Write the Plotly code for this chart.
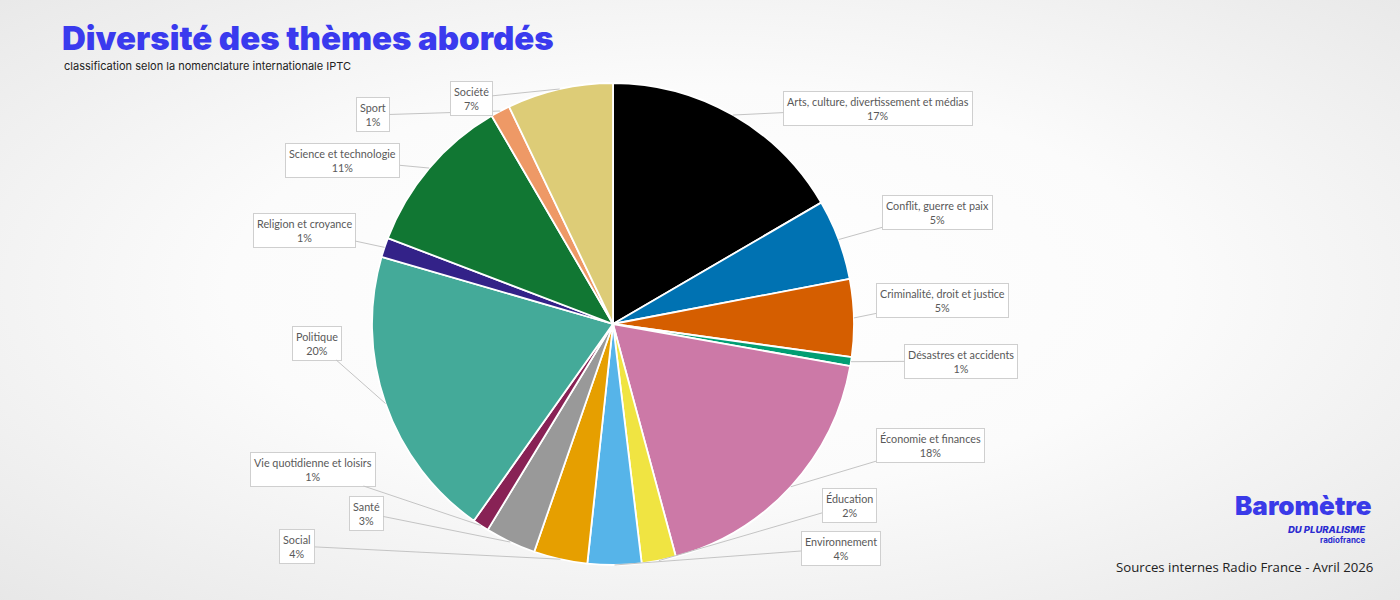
import math, base64
import plotly.graph_objects as go

# ---- data ----
themes = [
    "Arts, culture, divertissement et médias",
    "Conflit, guerre et paix",
    "Criminalité, droit et justice",
    "Désastres et accidents",
    "Économie et finances",
    "Éducation",
    "Environnement",
    "Social",
    "Santé",
    "Vie quotidienne et loisirs",
    "Politique",
    "Religion et croyance",
    "Science et technologie",
    "Sport",
    "Société",
]
shares = [16.6, 5.4, 5.2, 0.6, 18.0, 2.3, 3.6, 3.6, 3.4, 1.1, 19.7, 1.3, 10.8, 1.3, 7.1]
colors = ["#000000", "#0072B2", "#D55E00", "#009E73", "#CC79A7", "#F0E442", "#56B4E9",
          "#E69F00", "#999999", "#882255", "#44AA99", "#332288", "#117733", "#EE9966", "#DDCC77"]

# ---- layout (pixel positions of label boxes) ----
W, H = 1400, 600
CX, CY, R = 613, 324, 241
label_pos = [
    (878, 108), (937, 212), (942, 300), (961, 361), (930, 445), (849, 505), (841, 548),
    (297, 546), (366, 513), (313, 469), (317, 343), (304, 230), (343, 160), (373, 115), (471, 98),
]

bg_svg = (
    '<svg xmlns="http://www.w3.org/2000/svg" width="1400" height="600" viewBox="0 0 1400 600" preserveAspectRatio="none">'
    '<defs><radialGradient id="g" cx="50%" cy="48%" r="75%">'
    '<stop offset="0%" stop-color="#ffffff"/><stop offset="45%" stop-color="#fbfbfb"/>'
    '<stop offset="100%" stop-color="#e6e6e6"/></radialGradient></defs>'
    '<rect width="1400" height="600" fill="url(#g)"/></svg>'
)
bg_uri = "data:image/svg+xml;base64," + base64.b64encode(bg_svg.encode()).decode()

fig = go.Figure()
fig.add_trace(go.Pie(
    labels=themes, values=shares, sort=False, direction="clockwise", rotation=0,
    marker=dict(colors=colors, line=dict(color="#ffffff", width=1.8)),
    textinfo="none", hoverinfo="label+percent", showlegend=False,
    domain=dict(x=[(CX - R) / W, (CX + R) / W], y=[1 - (CY + R) / H, 1 - (CY - R) / H]),
))

total = sum(shares)
annotations = []
cum = 0.0
for name, v, (lx, ly) in zip(themes, shares, label_pos):
    mid = (cum + v / 2) / total * 2 * math.pi
    cum += v
    px = CX + R * math.sin(mid)
    py = CY - R * math.cos(mid)
    pct = int(math.floor(v / total * 100 + 0.5))
    annotations.append(dict(
        x=px / W, y=1 - py / H, xref="paper", yref="paper",
        ax=lx - px, ay=ly - py, axref="pixel", ayref="pixel",
        text=f"{name}<br>{pct}%", showarrow=True, arrowhead=0, arrowwidth=1,
        arrowcolor="#c4c4c4", standoff=0,
        font=dict(family="Lato, Roboto, sans-serif", size=10.8, color="#595959"),
        bgcolor="#ffffff", bordercolor="#cfcfcf", borderwidth=1, borderpad=3,
        align="center",
    ))

annotations += [
    dict(x=60 / W, y=1 - 38 / H, xref="paper", yref="paper", xanchor="left", yanchor="middle",
         text="Diversité des thèmes abordés", showarrow=False,
         font=dict(family="Inter, sans-serif", size=33, color="#3a3aee", weight=900)),
    dict(x=62 / W, y=1 - 66 / H, xref="paper", yref="paper", xanchor="left", yanchor="middle",
         text="classification selon la nomenclature internationale IPTC", showarrow=False,
         font=dict(family="Inter, sans-serif", size=11, color="#222222")),
    dict(x=1374 / W, y=1 - 505 / H, xref="paper", yref="paper", xanchor="right", yanchor="middle",
         text="Baromètre", showarrow=False,
         font=dict(family="Inter, sans-serif", size=26, color="#3a3ae8", weight=900)),
    dict(x=1368 / W, y=1 - 529 / H, xref="paper", yref="paper", xanchor="right", yanchor="middle",
         text="<i>DU PLURALISME</i>", showarrow=False,
         font=dict(family="Inter, sans-serif", size=9.5, color="#2b2bd0", weight=800)),
    dict(x=1368 / W, y=1 - 540 / H, xref="paper", yref="paper", xanchor="right", yanchor="middle",
         text="radiofrance", showarrow=False,
         font=dict(family="Inter, sans-serif", size=8, color="#2b2bd0", weight=700)),
    dict(x=1375 / W, y=1 - 567 / H, xref="paper", yref="paper", xanchor="right", yanchor="middle",
         text="Sources internes Radio France - Avril 2026", showarrow=False,
         font=dict(family="Open Sans, sans-serif", size=13.2, color="#222222")),
]

fig.update_layout(
    width=W, height=H, margin=dict(l=0, r=0, t=0, b=0),
    paper_bgcolor="#f4f4f4", plot_bgcolor="#f4f4f4",
    annotations=annotations,
    images=[dict(source=bg_uri, xref="paper", yref="paper", x=0, y=1, sizex=1, sizey=1,
                 xanchor="left", yanchor="top", sizing="stretch", layer="below")],
)

fig.write_html("out.html")
